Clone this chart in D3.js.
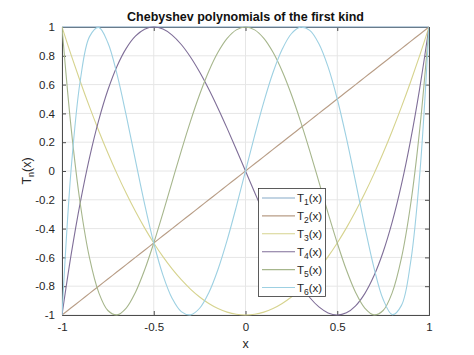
<!DOCTYPE html>
<html><head><meta charset="utf-8">
<script src="https://cdn.jsdelivr.net/npm/d3@7"></script>
<style>
body{margin:0;background:#fff;}
text{font-family:"Liberation Sans",Arial,sans-serif;}
</style></head>
<body><svg id="c" width="474" height="355"></svg>
<script>
// x samples (step 0.05)
const xs = [-1,-0.95,-0.9,-0.85,-0.8,-0.75,-0.7,-0.65,-0.6,-0.55,-0.5,-0.45,-0.4,-0.35,-0.3,-0.25,-0.2,-0.15,-0.1,-0.05,0,
  0.05,0.1,0.15,0.2,0.25,0.3,0.35,0.4,0.45,0.5,0.55,0.6,0.65,0.7,0.75,0.8,0.85,0.9,0.95,1];
// series as plotted (legend T1..T6 show degrees 0..5)
const S1 = [1,1,1,1,1,1,1,1,1,1,1,1,1,1,1,1,1,1,1,1,1,
  1,1,1,1,1,1,1,1,1,1,1,1,1,1,1,1,1,1,1,1];
const S2 = [-1,-0.95,-0.9,-0.85,-0.8,-0.75,-0.7,-0.65,-0.6,-0.55,-0.5,-0.45,-0.4,-0.35,-0.3,-0.25,-0.2,-0.15,-0.1,-0.05,0,
  0.05,0.1,0.15,0.2,0.25,0.3,0.35,0.4,0.45,0.5,0.55,0.6,0.65,0.7,0.75,0.8,0.85,0.9,0.95,1];
const S3 = [1,0.805,0.62,0.445,0.28,0.125,-0.02,-0.155,-0.28,-0.395,-0.5,-0.595,-0.68,-0.755,-0.82,-0.875,-0.92,-0.955,-0.98,-0.995,-1,
  -0.995,-0.98,-0.955,-0.92,-0.875,-0.82,-0.755,-0.68,-0.595,-0.5,-0.395,-0.28,-0.155,-0.02,0.125,0.28,0.445,0.62,0.805,1];
const S4 = [-1,-0.5795,-0.216,0.0935,0.352,0.5625,0.728,0.8515,0.936,0.9845,1,0.9855,0.944,0.8785,0.792,0.6875,0.568,0.4365,0.296,0.1495,0,
  -0.1495,-0.296,-0.4365,-0.568,-0.6875,-0.792,-0.8785,-0.944,-0.9855,-1,-0.9845,-0.936,-0.8515,-0.728,-0.5625,-0.352,-0.0935,0.216,0.5795,1];
const S5 = [1,0.29605,-0.2312,-0.60395,-0.8432,-0.96875,-0.9992,-0.95195,-0.8432,-0.68795,-0.5,-0.29195,-0.0752,0.14005,0.3448,0.53125,0.6928,0.82405,0.9208,0.98005,1,
  0.98005,0.9208,0.82405,0.6928,0.53125,0.3448,0.14005,-0.0752,-0.29195,-0.5,-0.68795,-0.8432,-0.95195,-0.9992,-0.96875,-0.8432,-0.60395,-0.2312,0.29605,1];
const S6 = [-1,0.017005,0.63216,0.933215,0.99712,0.890625,0.67088,0.386035,0.07584,-0.227755,-0.5,-0.722745,-0.88384,-0.976535,-0.99888,-0.953125,-0.84512,-0.683715,-0.48016,-0.247505,0,
  0.247505,0.48016,0.683715,0.84512,0.953125,0.99888,0.976535,0.88384,0.722745,0.5,0.227755,-0.07584,-0.386035,-0.67088,-0.890625,-0.99712,-0.933215,-0.63216,-0.017005,1];
const seriesNames = ["1","2","3","4","5","6"];
const seriesValues = [S1,S2,S3,S4,S5,S6];
const colors = ["#86a9c8","#b89d86","#d6d38e","#7f6e98","#a6b68c","#9dd0e2"];
const xTicks = [-1,-0.5,0,0.5,1];
const yTicks = [-1,-0.8,-0.6,-0.4,-0.2,0,0.2,0.4,0.6,0.8,1];

const svg = d3.select("#c");
const L=62,R=429,T=27,B=315;
const x = d3.scaleLinear().domain([-1,1]).range([L,R]);
const y = d3.scaleLinear().domain([-1,1]).range([B,T]);
const axisCol="#4d4d4d", textCol="#262626";
const fmt = d => String(d);

// grid
svg.append("g").selectAll("line").data(xTicks).join("line")
  .attr("x1",d=>x(d)).attr("x2",d=>x(d)).attr("y1",T).attr("y2",B)
  .attr("stroke","#e6e6e6").attr("stroke-width",1);
svg.append("g").selectAll("line").data(yTicks).join("line")
  .attr("y1",d=>y(d)).attr("y2",d=>y(d)).attr("x1",L).attr("x2",R)
  .attr("stroke","#e6e6e6").attr("stroke-width",1);

// axes (ticks inside, box)
const ax = svg.append("g");
ax.append("g").attr("transform",`translate(0,${B})`).call(d3.axisBottom(x).tickValues(xTicks).tickSize(-4).tickFormat(fmt).tickPadding(8));
ax.append("g").attr("transform",`translate(0,${T})`).call(d3.axisTop(x).tickValues(xTicks).tickSize(-4).tickFormat(""));
ax.append("g").attr("transform",`translate(${L},0)`).call(d3.axisLeft(y).tickValues(yTicks).tickSize(-4).tickFormat(fmt).tickPadding(7));
ax.append("g").attr("transform",`translate(${R},0)`).call(d3.axisRight(y).tickValues(yTicks).tickSize(-4).tickFormat(""));
ax.selectAll("path.domain").attr("stroke",axisCol);
ax.selectAll(".tick line").attr("stroke",axisCol);
ax.selectAll(".tick text").attr("fill",textCol).attr("font-size","11.5px").attr("font-family","Liberation Sans, Arial, sans-serif");

// lines (drawn over the frame)
const line = d3.line().x((d,i)=>x(xs[i])).y(d=>y(d)).curve(d3.curveCatmullRom.alpha(0.5));
svg.append("clipPath").attr("id","cp").append("rect").attr("x",L).attr("y",T-1).attr("width",R-L).attr("height",B-T+2);
svg.append("g").attr("clip-path","url(#cp)").selectAll("path").data(seriesValues).join("path")
  .attr("d",d=>line(d)).attr("fill","none").attr("stroke",(d,i)=>colors[i]).attr("stroke-width",1.1);

// title
svg.append("text").attr("x",(L+R)/2).attr("y",21).attr("text-anchor","middle")
  .attr("font-size","12.5px").attr("font-weight","bold").attr("fill","#111").text("Chebyshev polynomials of the first kind");
// x label
svg.append("text").attr("x",(L+R)/2).attr("y",348).attr("text-anchor","middle")
  .attr("font-size","12.5px").attr("fill",textCol).text("x");
// y label
const yl = svg.append("text").attr("transform",`translate(31,${(T+B)/2}) rotate(-90)`).attr("text-anchor","middle")
  .attr("font-size","12.5px").attr("fill",textCol);
yl.append("tspan").text("T");
yl.append("tspan").attr("dy",3).attr("font-size","9px").text("n");
yl.append("tspan").attr("dy",-3).text("(x)");

// legend
const lg = svg.append("g");
lg.append("rect").attr("x",258.5).attr("y",188.5).attr("width",67).attr("height",108)
  .attr("fill","#fff").attr("stroke","#333").attr("stroke-width",0.8);
seriesNames.forEach((n,i)=>{
  const cy = 198 + i*17.9;
  lg.append("line").attr("x1",262).attr("x2",295).attr("y1",cy).attr("y2",cy)
    .attr("stroke",colors[i]).attr("stroke-width",1.1);
  const t = lg.append("text").attr("x",297).attr("y",cy+4).attr("font-size","11.5px").attr("fill",textCol);
  t.append("tspan").text("T");
  t.append("tspan").attr("dy",3).attr("font-size","8.5px").text(n);
  t.append("tspan").attr("dy",-3).text("(x)");
});
</script></body></html>
